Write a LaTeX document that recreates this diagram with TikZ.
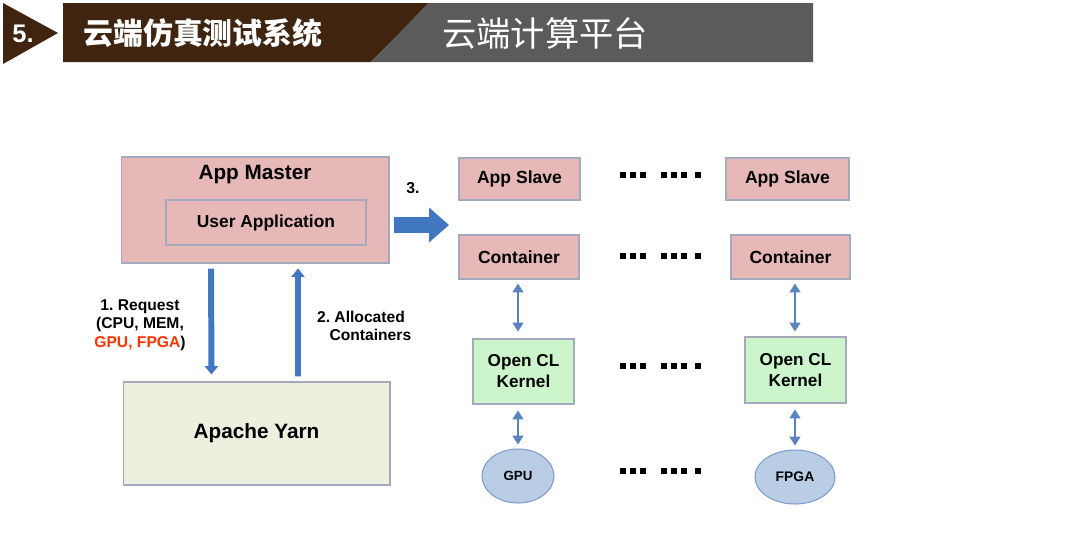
\documentclass[tikz,border=0pt]{standalone}
\usepackage{fontspec}
\setmainfont{Liberation Sans}
\newfontfamily\cjk{Noto Sans CJK SC}
\usetikzlibrary{positioning,arrows.meta,shapes.geometric}

\definecolor{headBrown}{HTML}{3F2410}
\definecolor{headGray}{HTML}{5B5B5B}
\definecolor{masterPink}{HTML}{E6B9B8}
\definecolor{boxBorder}{HTML}{A4A9BD}
\definecolor{yarnGreen}{HTML}{EBF1DE}
\definecolor{kernelGreen}{HTML}{CCF5CC}
\definecolor{deviceBlue}{HTML}{B9CDE5}
\definecolor{deviceBorder}{HTML}{7F9CCB}
\definecolor{arrowBlue}{HTML}{4176C0}
\definecolor{linkBlue}{HTML}{5A84BD}
\definecolor{reqRed}{HTML}{FF3300}

\begin{document}
\begin{tikzpicture}[x=0.02cm,y=-0.02cm]
		\tikzstyle{box} = [rectangle, draw=boxBorder, line width=0.6pt, inner sep=0pt, text centered, font=\bfseries]
		\tikzstyle{pinkbox} = [box, fill=masterPink]
		\tikzstyle{kernel} = [box, fill=kernelGreen, align=center]
		\tikzstyle{device} = [ellipse, draw=deviceBorder, fill=deviceBlue, line width=0.6pt, inner sep=0pt, font=\bfseries]
		\tikzstyle{bigflow} = [arrowBlue, line width=3.4pt, -{Triangle[length=4.8pt, width=7.8pt, line width=0pt]}]
		\tikzstyle{deploy} = [arrowBlue, line width=9pt, -{Triangle[length=11.3pt, width=19.8pt, line width=0pt]}]
		\tikzstyle{link} = [linkBlue, line width=1.1pt, {Triangle[length=5pt, width=6.4pt, line width=0pt]}-{Triangle[length=5pt, width=6.4pt, line width=0pt]}]
		\tikzstyle{note} = [font=\bfseries\frenchspacing\fontsize{8.9}{10.5}\selectfont, align=center, inner sep=0pt]
		
		\useasboundingbox (0,0) rectangle (1080,538);
		
		% header band
		\fill[headBrown] (3,3) -- (58,33) -- (3,64) -- cycle;
		\fill[headBrown] (63,3) -- (429,3) -- (371,62) -- (63,62) -- cycle;
		\fill[headGray] (429,3) -- (813,3) -- (813,62) -- (371,62) -- cycle;
		\node (sectionNo) [text=white, font=\bfseries\fontsize{14.5}{16}\selectfont] at (23,34) {5.};
		\node (sectionTitle) [text=white, font=\cjk\bfseries\fontsize{17}{19}\selectfont] at (203,33) {云端仿真测试系统};
		\node (sectionSubtitle) [text=white, font=\cjk\fontsize{19.5}{21}\selectfont] at (545,33) {云端计算平台};
		
		% master side
		\node (appMaster) [pinkbox, minimum width=5.36cm, minimum height=2.12cm] at (255,210) {};
		\node (appMasterLabel) [font=\bfseries\fontsize{11.8}{14}\selectfont, inner sep=0pt] at (255,175) {App Master};
		\node (userApp) [pinkbox, minimum width=4cm, minimum height=0.9cm, font=\bfseries\fontsize{9.9}{12}\selectfont] at (266,222.5) {User Application};
		\node (yarn) [box, fill=yarnGreen, minimum width=5.34cm, minimum height=2.06cm, font=\bfseries\fontsize{11.8}{14}\selectfont] at (256.5,433.5) {Apache Yarn};
		
		% slave side
		\begin{scope}[font=\bfseries\fontsize{10.1}{12}\selectfont]
			\node (slaveL) [pinkbox, minimum width=2.42cm, minimum height=0.84cm] at (519.5,179) {App Slave};
			\node (slaveR) [pinkbox, minimum width=2.46cm, minimum height=0.84cm] at (787.5,179) {App Slave};
			\node (containerL) [pinkbox, minimum width=2.4cm, minimum height=0.88cm] at (519,257) {Container};
			\node (containerR) [pinkbox, minimum width=2.38cm, minimum height=0.88cm] at (790.5,257) {Container};
		\end{scope}
		\node (kernelL) [kernel, minimum width=2.02cm, minimum height=1.3cm, font=\bfseries\fontsize{9.8}{12}\selectfont] at (523.5,371.5) {Open CL\\Kernel};
		\node (kernelR) [kernel, minimum width=2.02cm, minimum height=1.32cm, font=\bfseries\fontsize{9.8}{12}\selectfont] at (795.5,370) {Open CL\\Kernel};
		\node (gpu) [device, minimum width=1.44cm, minimum height=1.08cm, font=\bfseries\fontsize{7.6}{9}\selectfont] at (518,476) {GPU};
		\node (fpga) [device, minimum width=1.6cm, minimum height=1.08cm, font=\bfseries\fontsize{7.9}{9}\selectfont] at (795,477) {FPGA};
		
		% dotted gaps
		\foreach \y in {175,256,366,471}
			\foreach \x in {623,633,643,664,674,684,698}
				\fill (\x,\y) +(-2.6,-2.6) rectangle +(2.6,2.6);
		
		% arrows
		\draw [bigflow, shorten <=0.1cm, shorten >=0.14cm] ([xshift=-0.88cm]appMaster.south) -- ([xshift=-0.9cm]yarn.north);
		\draw [bigflow, shorten <=0.1cm, shorten >=0.1cm] ([xshift=0.83cm]yarn.north) -- ([xshift=0.86cm]appMaster.south);
		\draw [deploy, shorten <=0.08cm, shorten >=0.19cm] ([yshift=-0.05cm]appMaster.east |- userApp) -- ([yshift=-0.05cm]containerL.west |- userApp);
		
		\draw [link, shorten <=0.08cm, shorten >=0.14cm] (gpu |- containerL.south) -- (gpu |- kernelL.north);
		\draw [link, shorten <=0.12cm, shorten >=0.08cm] (gpu |- kernelL.south) -- (gpu.north);
		\draw [link, shorten <=0.08cm, shorten >=0.1cm] (fpga |- containerR.south) -- (fpga |- kernelR.north);
		\draw [link, shorten <=0.12cm, shorten >=0.08cm] (fpga |- kernelR.south) -- (fpga.north);
		
		% labels
		\node (requestLabel) [note] at (140,325) {1. Request\\(CPU, MEM,\\\textcolor{reqRed}{GPU, FPGA})};
		\node (allocLabel) [note] at (361,326) {2. Allocated\\\hspace{1.2em}Containers};
		\node (deployLabel) [font=\bfseries\fontsize{9}{11}\selectfont] at (413,188) {3.};
	
	\end{tikzpicture}
\end{document}
